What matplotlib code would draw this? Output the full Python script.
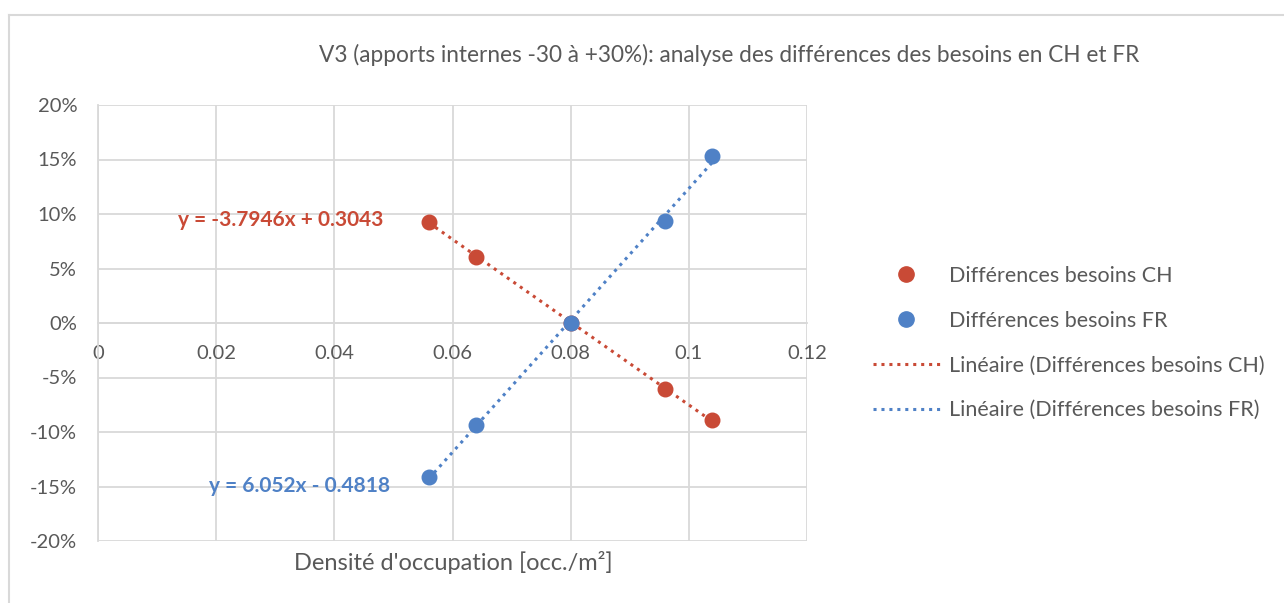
import numpy as np
import matplotlib.pyplot as plt
from matplotlib.lines import Line2D
from matplotlib.ticker import FuncFormatter

plt.rcParams['font.family'] = ['Lato', 'DejaVu Sans']

# data
densite = [0.056, 0.064, 0.080, 0.096, 0.104]
diff_ch = [0.093, 0.061, 0.0, -0.061, -0.089]
diff_fr = [-0.141, -0.094, 0.0, 0.094, 0.153]
eq_ch = "y = -3.7946x + 0.3043"
eq_fr = "y = 6.052x - 0.4818"
x_ticks = [0, 0.02, 0.04, 0.06, 0.08, 0.1, 0.12]
x_tick_labels = ["0", "0.02", "0.04", "0.06", "0.08", "0.1", "0.12"]
y_ticks = [-0.2, -0.15, -0.1, -0.05, 0, 0.05, 0.1, 0.15, 0.2]

red = "#C94A36"
blue = "#4F81C6"
grey = "#595959"
grid = "#D9D9D9"

fig = plt.figure(figsize=(12.84, 6.03), dpi=100)
ax = fig.add_axes([98/1284, 1-541/603, (807-98)/1284, (541-105)/603])

ax.scatter(densite, diff_ch, s=110, color=red, zorder=4)
ax.scatter(densite, diff_fr, s=110, color=blue, zorder=4)

# trend lines
xs = np.array([min(densite), max(densite)])
p_ch = np.polyfit(densite, diff_ch, 1)
p_fr = np.polyfit(densite, diff_fr, 1)
ax.plot(xs, np.polyval(p_ch, xs), color=red, lw=2.2, ls=(0, (1, 1.6)), zorder=3)
ax.plot(xs, np.polyval(p_fr, xs), color=blue, lw=2.2, ls=(0, (1, 1.6)), zorder=3)

ax.set_xlim(0, 0.12)
ax.set_ylim(-0.2, 0.2)
ax.set_xticks(x_ticks)
ax.set_xticklabels(x_tick_labels)
ax.set_yticks(y_ticks)
ax.yaxis.set_major_formatter(FuncFormatter(lambda v, p: f"{v*100:.0f}%"))
ax.grid(True, color=grid, lw=1.3)
ax.set_axisbelow(True)
for s in ['top', 'right']:
    ax.spines[s].set_visible(False)
ax.spines['left'].set_color(grid)
ax.spines['left'].set_linewidth(1.3)
ax.spines['bottom'].set_position(('data', 0))
ax.spines['bottom'].set_color(grid)
ax.spines['bottom'].set_linewidth(1.3)
ax.tick_params(length=0, labelsize=14.5, colors=grey)
ax.tick_params(axis='y', pad=15)
ax.tick_params(axis='x', pad=16)

ax.text(0.0483, 0.0945, eq_ch, color=red, fontsize=15, fontweight='bold',
        ha='right', va='center')
ax.text(0.0494, -0.150, eq_fr, color=blue, fontsize=15, fontweight='bold',
        ha='right', va='center')

fig.text(453/1284, 1-563/603, "Densité d'occupation [occ./m²]", color=grey,
         fontsize=17, ha='center', va='center')
fig.text(729/1284, 1-55/603,
         "V3 (apports internes -30 à +30%): analyse des différences des besoins en CH et FR",
         color=grey, fontsize=16.3, ha='center', va='center')

handles = [
    Line2D([], [], ls='none', marker='o', ms=11, color=red),
    Line2D([], [], ls='none', marker='o', ms=11, color=blue),
    Line2D([], [], color=red, lw=2.2, ls=(0, (1, 1.6))),
    Line2D([], [], color=blue, lw=2.2, ls=(0, (1, 1.6))),
]
labels = ["Différences besoins CH", "Différences besoins FR",
          "Linéaire (Différences besoins CH)", "Linéaire (Différences besoins FR)"]
leg = fig.legend(handles, labels, loc='center left', bbox_to_anchor=(862/1284, 1-343/603),
                 frameon=False, fontsize=15.5, labelcolor=grey, handlelength=3.1,
                 labelspacing=1.15, handletextpad=0.45, borderpad=0)

# chart frame
fig.add_artist(Line2D([9/1284, 1], [1-15/603, 1-15/603], color=grid, lw=1.5))
fig.add_artist(Line2D([9/1284, 9/1284], [0, 1-15/603], color=grid, lw=1.5))

fig.savefig("out.png", dpi=100)
